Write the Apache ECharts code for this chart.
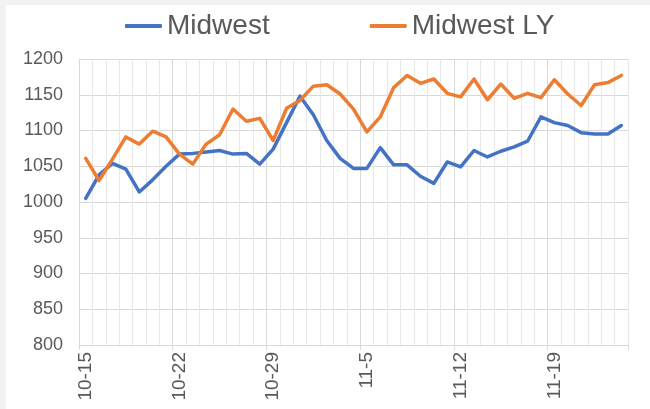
<!DOCTYPE html>
<html>
<head>
<meta charset="utf-8">
<script src="https://cdn.jsdelivr.net/npm/echarts@6/dist/echarts.min.js"></script>
<style>
  html, body { margin: 0; padding: 0; background: #f2f2f2; }
  #chart { position: absolute; left: 6px; top: 5px; width: 644px; height: 404px; background: #fff; }
</style>
</head>
<body>
<div id="chart"></div>
<script>
  // daily dates, labels every 7th day
  var days = ['10-15', '10-16', '10-17', '10-18', '10-19', '10-20', '10-21',
    '10-22', '10-23', '10-24', '10-25', '10-26', '10-27', '10-28',
    '10-29', '10-30', '10-31', '11-1', '11-2', '11-3', '11-4',
    '11-5', '11-6', '11-7', '11-8', '11-9', '11-10', '11-11',
    '11-12', '11-13', '11-14', '11-15', '11-16', '11-17', '11-18',
    '11-19', '11-20', '11-21', '11-22', '11-23', '11-24'];

  var midwest = [1005, 1038, 1054, 1046, 1014, 1031, 1050,
    1067, 1068, 1070, 1072, 1067, 1068, 1053,
    1074, 1111, 1148, 1122, 1086, 1061, 1047,
    1047, 1076, 1052, 1052, 1036, 1026, 1056,
    1049, 1072, 1063, 1071, 1077, 1085, 1119,
    1111, 1107, 1097, 1095, 1095, 1107];

  var midwestLY = [1061, 1030, 1060, 1091, 1081, 1099, 1091,
    1067, 1053, 1081, 1094, 1130, 1113, 1117,
    1086, 1131, 1142, 1162, 1164, 1151, 1130,
    1098, 1119, 1160, 1177, 1166, 1172, 1152,
    1147, 1172, 1143, 1165, 1145, 1152, 1146,
    1171, 1151, 1135, 1164, 1167, 1177];

  var yTicks = { min: 800, max: 1200, step: 50 };

  var chart = echarts.init(document.getElementById('chart'));
  var font = 'Liberation Sans, Arial, sans-serif';
  // every 7th vertical gridline a bit darker
  var vColors = ['#d9d9d9', '#e8e8e8', '#e8e8e8', '#e8e8e8', '#e8e8e8', '#e8e8e8', '#e8e8e8'];

  chart.setOption({
    animation: false,
    backgroundColor: '#fff',
    color: ['#4472c4', '#ed7d31'],
    legend: {
      left: 114,
      top: 2,
      itemWidth: 37,
      itemHeight: 4,
      itemGap: 100,
      icon: 'roundRect',
      textStyle: { fontFamily: font, fontSize: 28, color: '#595959' },
      data: ['Midwest', 'Midwest LY']
    },
    grid: { left: 73, right: 22, top: 54, bottom: 64 },
    xAxis: {
      type: 'category',
      data: days,
      boundaryGap: true,
      axisLine: { show: true, lineStyle: { color: '#d9d9d9', width: 1 } },
      axisTick: { show: true, interval: 6, length: 5, lineStyle: { color: '#d9d9d9' } },
      axisLabel: {
        interval: 6, rotate: 90, margin: 7,
        fontFamily: font, fontSize: 19, color: '#595959'
      },
      splitLine: { show: true, interval: 0, lineStyle: { color: vColors, width: 1 } }
    },
    yAxis: {
      type: 'value',
      min: yTicks.min,
      max: yTicks.max,
      interval: yTicks.step,
      axisLine: { show: false },
      axisTick: { show: false },
      axisLabel: {
        margin: 16, fontFamily: font, fontSize: 18, color: '#595959',
        formatter: function (v) { return String(v); }
      },
      splitLine: { lineStyle: { color: '#d9d9d9', width: 1 } }
    },
    series: [
      {
        name: 'Midwest',
        type: 'line',
        data: midwest,
        showSymbol: false,
        lineStyle: { width: 3.5, cap: 'round', join: 'round' }
      },
      {
        name: 'Midwest LY',
        type: 'line',
        data: midwestLY,
        showSymbol: false,
        lineStyle: { width: 3.5, cap: 'round', join: 'round' }
      }
    ]
  });
</script>
</body>
</html>
